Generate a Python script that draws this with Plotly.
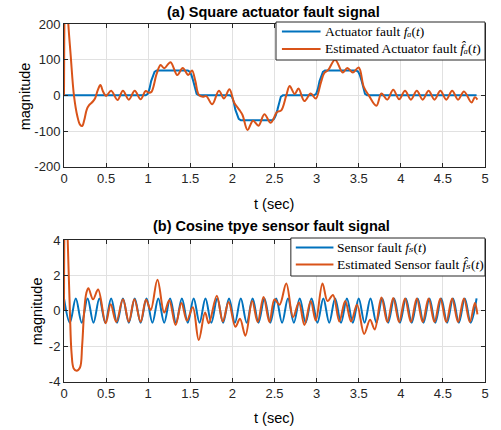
import plotly.graph_objects as go

# ---------------- data ----------------
x_ticks = [0, 0.5, 1, 1.5, 2, 2.5, 3, 3.5, 4, 4.5, 5]
x_tick_labels = ["0", "0.5", "1", "1.5", "2", "2.5", "3", "3.5", "4", "4.5", "5"]
ya_ticks = [-200, -100, 0, 100, 200]
ya_tick_labels = ["-200", "-100", "0", "100", "200"]
ys_ticks = [-4, -2, 0, 2, 4]
ys_tick_labels = ["-4", "-2", "0", "2", "4"]

legend_a = ["Actuator fault <i>f\u2090</i>(<i>t</i>)",
            "Estimated Actuator fault <i>f\u0302\u2090</i>(<i>t</i>)"]
legend_b = ["Sensor fault <i>f\u209b</i>(<i>t</i>)",
            "Estimated Sensor fault <i>f\u0302\u209b</i>(<i>t</i>)"]

# (a) actuator fault (true)
t_fa = [0, 0.97, 0.995, 1.015, 1.035, 1.055, 1.075, 1.10,
        1.47, 1.495, 1.515, 1.535, 1.555, 1.575, 1.60,
        1.97, 1.995, 2.015, 2.035, 2.055, 2.075, 2.10,
        2.47, 2.495, 2.515, 2.535, 2.555, 2.575, 2.60,
        2.97, 2.995, 3.015, 3.035, 3.055, 3.075, 3.10,
        3.47, 3.495, 3.515, 3.535, 3.555, 3.575, 3.60, 4.90]
v_fa = [0, 0, 4, 18, 40, 56, 66, 70,
        70, 66, 56, 40, 18, 4, 0,
        0, -4, -18, -40, -56, -66, -70,
        -70, -66, -56, -40, -18, -4, 0,
        0, 4, 18, 40, 56, 66, 70,
        70, 66, 56, 40, 18, 4, 0, 0]

# (a) estimated actuator fault
t_fa_hat = [0, 0.003, 0.01, 0.02, 0.035, 0.05, 0.08, 0.118, 0.16, 0.19, 0.216, 0.24,
            0.27, 0.30, 0.34, 0.37, 0.40, 0.432, 0.465, 0.50, 0.56, 0.635, 0.70, 0.77,
            0.84, 0.91, 0.97, 1.01, 1.04, 1.10, 1.147, 1.19, 1.265, 1.345, 1.41, 1.475,
            1.52, 1.56, 1.60, 1.65, 1.69, 1.76, 1.84, 1.90, 1.965, 2.02, 2.08, 2.12,
            2.18, 2.245, 2.31, 2.38, 2.455, 2.53, 2.58, 2.64, 2.68, 2.74, 2.785, 2.855,
            2.93, 2.99, 3.05, 3.09, 3.14, 3.22, 3.31, 3.365, 3.43, 3.50, 3.56, 3.62,
            3.71, 3.77, 3.84, 3.91, 3.98, 4.05, 4.12, 4.19, 4.26, 4.33, 4.40, 4.47,
            4.54, 4.61, 4.68, 4.75, 4.84, 4.88, 4.91]
v_fa_hat = [0, 150, 280, 320, 290, 205, 110, 0, -60, -82, -86, -70,
            -40, -27, -18, -8, 14, 29, 10, -2, 13, -13, 13, -12,
            13, -11, 12, 7, 10, 60, 85, 76, 93, 57, 77, 57,
            70, 40, 2, -4, -2, -25, 13, -9, 17, -20, -40, -55,
            -97, -71, -85, -53, -77, -47, -42, 0, 26, 4, 19, -16,
            5, -9, 35, 62, 72, 100, 64, 77, 64, 78, 24, 0,
            -29, 5, -12, 16, -11, 13, -12, 13, -12, 13, -12, 13,
            -12, 13, -12, 11, -20, -5, -12]

# (b) sensor fault (true)
t_fs = [0, 0.07, 0.14, 0.21, 0.28, 0.35, 0.42, 0.49, 0.56, 0.63, 0.70, 0.77,
        0.84, 0.91, 0.98, 1.05, 1.12, 1.19, 1.26, 1.33, 1.40, 1.47, 1.54, 1.61,
        1.68, 1.75, 1.82, 1.89, 1.96, 2.03, 2.10, 2.17, 2.24, 2.31, 2.38, 2.45,
        2.52, 2.59, 2.66, 2.73, 2.80, 2.87, 2.94, 3.01, 3.08, 3.15, 3.22, 3.29,
        3.36, 3.43, 3.50, 3.57, 3.64, 3.71, 3.78, 3.85, 3.92, 3.99, 4.06, 4.13,
        4.20, 4.27, 4.34, 4.41, 4.48, 4.55, 4.62, 4.69, 4.76, 4.83, 4.90]
v_fs = [0.7, -0.67, 0.7, -0.67, 0.7, -0.67, 0.7, -0.67, 0.7, -0.67, 0.7, -0.67,
        0.7, -0.67, 0.7, -0.67, 0.7, -0.67, 0.7, -0.67, 0.7, -0.67, 0.7, -0.67,
        0.7, -0.67, 0.7, -0.67, 0.7, -0.67, 0.7, -0.67, 0.7, -0.67, 0.7, -0.67,
        0.7, -0.67, 0.7, -0.67, 0.7, -0.67, 0.7, -0.67, 0.7, -0.67, 0.7, -0.67,
        0.7, -0.67, 0.7, -0.67, 0.7, -0.67, 0.7, -0.67, 0.7, -0.67, 0.7, -0.67,
        0.7, -0.67, 0.7, -0.67, 0.7, -0.67, 0.7, -0.67, 0.7, -0.67, 0.7]

# (b) estimated sensor fault
t_fs_hat = [0, 0.005, 0.015, 0.03, 0.044, 0.07, 0.09, 0.115, 0.15, 0.19, 0.215, 0.24,
            0.265, 0.29, 0.345, 0.405, 0.495, 0.554, 0.62, 0.70, 0.77, 0.836, 0.91, 0.974,
            1.03, 1.11, 1.19, 1.25, 1.325, 1.395, 1.46, 1.53, 1.60, 1.675, 1.72, 1.815,
            1.885, 1.955, 2.035, 2.09, 2.155, 2.235, 2.30, 2.37, 2.44, 2.50, 2.56, 2.64,
            2.72, 2.79, 2.855, 2.93, 2.99, 3.07, 3.13, 3.195, 3.27, 3.34, 3.41, 3.48,
            3.565, 3.635, 3.69, 3.77, 3.84, 3.91, 3.98, 4.05, 4.12, 4.19, 4.26, 4.33,
            4.40, 4.47, 4.54, 4.61, 4.68, 4.75, 4.82, 4.88, 4.91]
v_fs_hat = [0, 4.5, 6.5, 6.0, 4.0, 0, -2.4, -3.25, -3.38, -3.2, -2.0, 0,
            1.0, 1.28, 0.65, 1.2, -0.7, 0.37, -0.63, 0.65, -0.62, 0.65, -0.62, 0.62,
            0.05, 1.75, -0.1, 0.6, -0.8, 0.45, -0.55, 0.2, -1.65, -0.1, -0.7, 0.85,
            -0.6, 0.5, -0.9, -0.45, -1.4, 0.55, -0.63, 0.78, -0.63, 0.65, 0.35, 1.55,
            -0.35, 0.47, -0.8, 0.55, -0.55, 1.55, 0.55, 0.9, -0.6, 0.56, -0.6, 0.35,
            -1.3, -0.5, -1.05, 0.75, -0.63, 0.72, -0.63, 0.7, -0.63, 0.7, -0.63, 0.7,
            -0.63, 0.7, -0.63, 0.7, -0.63, 0.7, -0.63, 0.45, -0.2]

# ---------------- style ----------------
BLUE = "#0072BD"
ORANGE = "#D95319"
AX = "#262626"
GRID = "#e1e1e1"
SANS = "Liberation Sans, Arial, sans-serif"
SERIF = "Liberation Serif, DejaVu Serif, Times New Roman, serif"

W, H = 501, 430
L, R, T, B = 64, 12, 24, 48
PW, PH = W - L - R, H - T - B


def px_x(px):
    return (px - L) / PW


def px_y(py):
    return (H - B - py) / PH


fig = go.Figure()
fig.add_trace(go.Scatter(x=t_fa, y=v_fa, mode="lines", line=dict(color=BLUE, width=2),
                         name=legend_a[0], showlegend=False, xaxis="x", yaxis="y"))
fig.add_trace(go.Scatter(x=t_fa_hat, y=v_fa_hat, mode="lines",
                         line=dict(color=ORANGE, width=2, shape="spline", smoothing=1),
                         name=legend_a[1], showlegend=False, xaxis="x", yaxis="y"))
fig.add_trace(go.Scatter(x=t_fs, y=v_fs, mode="lines",
                         line=dict(color=BLUE, width=2, shape="spline", smoothing=1),
                         name=legend_b[0], showlegend=False, xaxis="x2", yaxis="y2"))
fig.add_trace(go.Scatter(x=t_fs_hat, y=v_fs_hat, mode="lines",
                         line=dict(color=ORANGE, width=2, shape="spline", smoothing=1),
                         name=legend_b[1], showlegend=False, xaxis="x2", yaxis="y2"))

axis_common = dict(showline=True, linecolor=AX, linewidth=1, mirror="ticks",
                   ticks="inside", ticklen=4, tickcolor=AX, tickwidth=1,
                   showgrid=True, gridcolor=GRID, gridwidth=1, zeroline=False,
                   tickfont=dict(family=SANS, size=13, color=AX))

top_dom = [px_y(166.7), px_y(24)]
bot_dom = [px_y(381.7), px_y(240)]

fig.update_layout(
    width=W, height=H,
    margin=dict(l=L, r=R, t=T, b=B),
    paper_bgcolor="white", plot_bgcolor="white",
    xaxis=dict(domain=[0, 1], range=[0, 5], tickvals=x_ticks, ticktext=x_tick_labels,
               anchor="y", **axis_common),
    yaxis=dict(domain=top_dom, range=[-200, 200], tickvals=ya_ticks,
               ticktext=ya_tick_labels, anchor="x", **axis_common),
    xaxis2=dict(domain=[0, 1], range=[0, 5], tickvals=x_ticks, ticktext=x_tick_labels,
                anchor="y2", **axis_common),
    yaxis2=dict(domain=bot_dom, range=[-4, 4], tickvals=ys_ticks,
                ticktext=ys_tick_labels, anchor="x2", **axis_common),
    showlegend=False,
)

# ---- legend boxes (drawn like MATLAB's) ----
def add_legend(box, rows, line_x, text_x, labels):
    x0, y0, x1, y1 = box
    fig.add_shape(type="rect", xref="paper", yref="paper",
                  x0=px_x(x0), x1=px_x(x1), y0=px_y(y1), y1=px_y(y0),
                  line=dict(color=AX, width=1), fillcolor="white", layer="above")
    for ry, col, lab in zip(rows, [BLUE, ORANGE], labels):
        fig.add_shape(type="line", xref="paper", yref="paper",
                      x0=px_x(line_x[0]), x1=px_x(line_x[1]), y0=px_y(ry), y1=px_y(ry),
                      line=dict(color=col, width=2), layer="above")
        fig.add_annotation(text=lab, xref="paper", yref="paper",
                           x=px_x(text_x), y=px_y(ry), xanchor="left", yanchor="middle",
                           showarrow=False, font=dict(family=SERIF, size=13.5, color="black"))


add_legend((278, 22, 489, 60), [31.5, 49], (284, 323), 325, legend_a)
add_legend((293, 238, 489, 276), [247.5, 264.5], (298, 336), 338, legend_b)

ann = [
    ("<b>(a) Square actuator fault signal</b>", 275, 12, 14.5, 0),
    ("<b>(b) Cosine tpye sensor fault signal</b>", 273, 226, 14.5, 0),
    ("t (sec)", 276, 204, 14.5, 0),
    ("t (sec)", 276, 418, 14.5, 0),
    ("magnitude", 25, 96, 14.5, -90),
    ("magnitude", 37, 311, 14.5, -90),
]
for text, x, y, size, rot in ann:
    fig.add_annotation(text=text, xref="paper", yref="paper", x=px_x(x), y=px_y(y),
                       xanchor="center", yanchor="middle", showarrow=False,
                       textangle=rot, font=dict(family=SANS, size=size, color="black"))

fig.write_html("out.html")
